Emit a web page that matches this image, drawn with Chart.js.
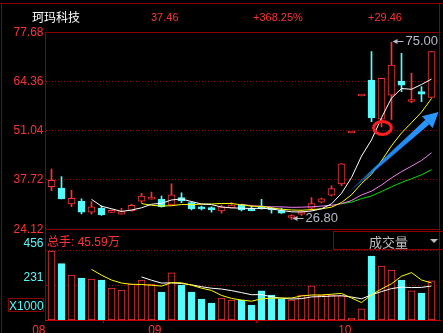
<!DOCTYPE html>
<html>
<head>
<meta charset="utf-8">
<script src="https://cdn.jsdelivr.net/npm/chart.js@4.4.1/dist/chart.umd.min.js"></script>
<style>
  html, body { margin: 0; padding: 0; background: #000; overflow: hidden; }
  #wrap { position: relative; width: 443px; height: 333px; background: #000; font-family: 'Liberation Sans', 'Noto Sans CJK SC', sans-serif; }
  canvas { position: absolute; left: 0; top: 0; }
  .ln { position: absolute; background: #8c0000; }
  .txt { position: absolute; white-space: nowrap; line-height: 1; }
  .red { color: #ff3232; }
</style>
</head>
<body>
<div id="wrap">
  <canvas id="priceChart" width="443" height="333"></canvas>
  <canvas id="volChart" width="443" height="333"></canvas>

  <!-- frame -->
  <div class="ln" style="left:0;top:3px;width:443px;height:1px"></div>
  <div class="ln" style="left:1px;top:3px;width:1px;height:330px"></div>
  <div class="ln" style="left:439px;top:3px;width:1px;height:317px"></div>
  <div class="ln" style="left:45px;top:32px;width:395px;height:1px"></div>
  <div class="ln" style="left:45px;top:32px;width:1px;height:288px"></div>
  <div class="ln" style="left:45px;top:229px;width:395px;height:1px"></div>

  <!-- header -->
  <div class="txt" style="left:32px;top:11px;font-size:12px;color:#fff;font-family:'Noto Sans CJK SC'">珂玛科技</div>
  <div class="txt red" style="left:151px;top:11.5px;font-size:11px">37.46</div>
  <div class="txt red" style="left:253px;top:11.5px;font-size:11px">+368.25%</div>
  <div class="txt red" style="left:368px;top:11.5px;font-size:11px">+29.46</div>

  <!-- volume panel header -->
  <div class="txt red" style="left:47px;top:236px;font-size:12px">总手: 45.59万</div>
  <div style="position:absolute;left:333px;top:231px;width:115px;height:19px;border:1px solid #8c0000;box-sizing:border-box;"></div>
  <div class="txt" style="left:369px;top:235px;font-size:13px;color:#c0c0c0;font-family:'Noto Sans CJK SC'">成交量</div>
  <div style="position:absolute;left:430px;top:239px;width:0;height:0;border-left:4px solid transparent;border-right:4px solid transparent;border-top:4px solid #c0c0c0;"></div>
  <div style="position:absolute;left:8px;top:298px;width:36px;height:14px;border:1px solid #8c0000;box-sizing:border-box;"></div>
  <div class="txt" style="left:9px;top:300px;font-size:12px;color:#54fcfc">X1000</div>
</div>

<script>
const RED = '#ff3232';
const CYAN = '#54fcfc';
const DOT = '#a00000';

// daily candles, 2024-08-16 .. 2024-10
const opens  = [35.70, 35.35, 31.00, 31.73, 28.74, 29.90, 28.70, 28.20, 29.17, 31.73,
                32.30, 32.27, 30.72, 32.71, 31.35, 30.18, 30.00, 29.09, 29.99, 30.72,
                29.72, 30.10, 29.80, 29.17, 27.30, 28.20, 29.82, 31.46, 33.36, 36.44,
                50.32, 60.38, 64.75, 54.10, 60.60, 64.48, 58.90, 61.57, 60.00];
const highs  = [40.50, 38.43, 34.80, 32.36, 31.62, 30.50, 29.40, 29.80, 30.90, 33.90,
                34.26, 33.17, 36.44, 33.99, 31.50, 30.40, 30.20, 30.72, 31.35, 30.90,
                30.40, 32.27, 30.00, 29.90, 28.00, 29.30, 32.71, 32.60, 35.90, 42.00,
                50.32, 60.38, 72.46, 65.30, 75.00, 72.00, 66.58, 62.93, 72.50];
const lows   = [34.60, 32.36, 30.26, 28.27, 28.19, 27.90, 28.60, 28.20, 29.00, 31.35,
                32.30, 30.10, 30.60, 31.35, 29.36, 29.36, 28.74, 28.46, 29.90, 29.09,
                29.10, 29.60, 28.46, 28.40, 26.80, 27.90, 29.17, 31.30, 33.20, 35.98,
                50.32, 60.38, 53.40, 52.00, 54.00, 61.60, 58.60, 58.85, 59.94];
const closes = [37.46, 32.36, 32.55, 28.74, 30.18, 28.00, 29.00, 28.90, 30.64, 33.17,
                32.90, 30.26, 33.45, 31.90, 29.72, 29.63, 29.36, 30.18, 30.72, 29.36,
                29.17, 29.70, 29.36, 28.46, 27.60, 28.90, 31.08, 32.36, 35.16, 41.93,
                50.32, 60.38, 54.41, 65.20, 68.80, 63.31, 59.30, 60.90, 72.50];
// volume in thousands of lots
const volumes = [456, 372, 297, 277, 271, 264, 211, 198, 236, 264,
                 238, 185, 311, 231, 185, 139, 112, 145, 132, 132,
                 99, 192, 165, 139, 132, 165, 225, 165, 165, 159,
                 13, 73, 423, 357, 330, 264, 192, 178, 258];

const ma5 = [null, null, null, null, 32.26, 30.37, 29.69, 28.96, 29.34, 29.94,
             30.92, 31.17, 32.08, 32.34, 31.65, 30.99, 30.81, 30.16, 29.92, 29.85,
             29.76, 29.83, 29.66, 29.21, 28.86, 28.80, 29.08, 29.68, 31.02, 33.89,
             38.17, 44.03, 48.44, 54.45, 59.82, 62.42, 62.22, 63.53, 64.99];
const ma10 = [null, null, null, null, null, null, null, null, null, 31.10,
              30.64, 30.43, 30.52, 30.84, 30.79, 30.96, 30.99, 31.12, 31.13, 30.75,
              30.38, 30.32, 29.91, 29.57, 29.35, 29.28, 29.45, 29.67, 30.12, 31.37,
              33.49, 36.56, 39.06, 42.73, 46.85, 50.30, 53.13, 55.99, 59.72];
const ma20 = [null, null, null, null, null, null, null, null, null, null,
              null, null, null, null, null, null, null, null, null, 30.92,
              30.51, 30.38, 30.22, 30.20, 30.07, 30.12, 30.22, 30.40, 30.62, 31.06,
              31.93, 33.44, 34.49, 36.15, 38.10, 39.79, 41.29, 42.83, 44.92];
const ma30 = [null, null, null, null, null, null, null, null, null, null,
              null, null, null, null, null, null, null, null, null, null,
              null, null, null, null, null, null, null, null, null, 31.07,
              31.50, 32.44, 33.16, 34.38, 35.67, 36.84, 37.86, 38.93, 40.32];
const volMa5 = [null, null, null, null, 334.6, 296.2, 264.0, 244.2, 236.0, 234.6,
                229.4, 224.2, 246.8, 245.8, 230.0, 210.2, 195.6, 162.4, 142.6, 132.0,
                124.0, 140.0, 144.0, 145.4, 145.4, 158.6, 165.2, 165.2, 170.4, 175.8,
                145.4, 115.0, 166.6, 205.0, 239.2, 289.4, 313.2, 264.2, 244.4];
const volMa10 = [null, null, null, null, null, null, null, null, null, 284.6,
                 262.8, 244.1, 245.5, 240.9, 232.3, 219.8, 209.9, 204.6, 194.2, 181.0,
                 167.1, 167.8, 153.2, 144.0, 138.7, 141.3, 152.6, 154.6, 157.9, 160.6,
                 152.0, 140.1, 165.9, 187.7, 207.5, 217.4, 214.1, 215.4, 224.7];

const priceTicks = [24.12, 37.72, 51.04, 64.36, 77.68];
const volTicks = [231, 456];
const monthLabels = ['08', '09', '10'];
const monthFirstBar = [0, 11, 30];

Chart.defaults.font.family = "'Liberation Sans', sans-serif";
Chart.defaults.font.size = 12;

const isUp = i => closes[i] >= opens[i];
const upDown = (up, down) => closes.map((c, i) => isUp(i) ? up : down);
const pts = arr => arr.map((v, i) => ({ x: i, y: v }));

const xIndex = () => ({ type: 'linear', min: -0.6, max: 38.9, offset: false });

const maLine = (data, color) => ({
  type: 'line', data: pts(data), borderColor: color, borderWidth: 1,
  pointRadius: 0, tension: 0, order: 0
});

// annotations on the price panel: high/low tags, circle, trend arrow
const notesPlugin = {
  id: 'notes',
  afterDatasetsDraw(chart) {
    const { ctx, scales: { x, y } } = chart;
    ctx.save();

    const tag = (i, v) => {
      const px = x.getPixelForValue(i), py = Math.round(y.getPixelForValue(v)) - 0.5;
      ctx.strokeStyle = ctx.fillStyle = '#b8bcc8';
      ctx.lineWidth = 1;
      ctx.beginPath();
      ctx.moveTo(px + 2, py); ctx.lineTo(px + 12, py); ctx.stroke();
      ctx.beginPath();
      ctx.moveTo(px + 1, py); ctx.lineTo(px + 6, py - 2.5); ctx.lineTo(px + 6, py + 2.5);
      ctx.closePath(); ctx.fill();
      ctx.font = "13px 'Liberation Sans'";
      ctx.textBaseline = 'middle';
      ctx.fillText(v.toFixed(2), px + 14, py);
    };
    const hi = highs.indexOf(Math.max(...highs));
    const lo = lows.indexOf(Math.min(...lows));
    tag(hi, highs[hi]);
    tag(lo, lows[lo]);

    // red circle
    ctx.strokeStyle = '#ff1e1e';
    ctx.lineWidth = 3;
    ctx.beginPath();
    ctx.ellipse(x.getPixelForValue(33.1), y.getPixelForValue(51.7), 8.8, 6.5, 0, 0, Math.PI * 2);
    ctx.stroke();

    // blue trend arrow
    const t0 = { x: x.getPixelForValue(29.4), y: y.getPixelForValue(33.4) };
    const t1 = { x: x.getPixelForValue(38.7), y: y.getPixelForValue(56.0) };
    const dx = t1.x - t0.x, dy = t1.y - t0.y, len = Math.hypot(dx, dy);
    const ux = dx / len, uy = dy / len, nx = -uy, ny = ux;
    const headLen = 15, headW = 8;
    const b = { x: t1.x - ux * headLen, y: t1.y - uy * headLen };
    const g = ctx.createLinearGradient(t0.x, t0.y, b.x, b.y);
    g.addColorStop(0, 'rgba(30,144,255,0)');
    g.addColorStop(0.35, 'rgba(30,144,255,0.9)');
    g.addColorStop(1, 'rgba(40,150,255,1)');
    ctx.fillStyle = g;
    ctx.beginPath();
    ctx.moveTo(t0.x + nx * 0.5, t0.y + ny * 0.5);
    ctx.lineTo(b.x + nx * 3, b.y + ny * 3);
    ctx.lineTo(b.x - nx * 3, b.y - ny * 3);
    ctx.lineTo(t0.x - nx * 0.5, t0.y - ny * 0.5);
    ctx.closePath(); ctx.fill();
    ctx.fillStyle = '#2896ff';
    ctx.beginPath();
    ctx.moveTo(t1.x, t1.y);
    ctx.lineTo(b.x + nx * headW, b.y + ny * headW);
    ctx.lineTo(b.x - nx * headW, b.y - ny * headW);
    ctx.closePath(); ctx.fill();

    ctx.restore();
  }
};

new Chart(document.getElementById('priceChart'), {
  type: 'bar',
  data: {
    datasets: [
      maLine(ma5, '#ffffff'),
      maLine(ma10, '#ffff00'),
      maLine(ma20, '#f080f0'),
      maLine(ma30, '#00e000'),
      {
        label: 'body',
        data: opens.map((o, i) => ({ x: i, y: [o, closes[i]] })),
        backgroundColor: upDown('#000000', CYAN),
        borderColor: upDown(RED, CYAN),
        borderWidth: 1,
        borderSkipped: false,
        barThickness: 7,
        minBarLength: 2,
        grouped: false,
        order: 1
      },
      {
        label: 'wick',
        data: lows.map((l, i) => ({ x: i, y: [l, highs[i]] })),
        backgroundColor: upDown(RED, CYAN),
        borderWidth: 0,
        barThickness: 1,
        grouped: false,
        order: 2
      }
    ]
  },
  options: {
    responsive: false,
    animation: false,
    layout: { padding: { top: 32.5, right: 2.5, bottom: 103.8, left: 0 } },
    plugins: { legend: { display: false }, tooltip: { enabled: false } },
    scales: {
      x: Object.assign(xIndex(), { display: false }),
      y: {
        min: priceTicks[0],
        max: priceTicks[priceTicks.length - 1],
        afterFit: s => { s.width = 45.5; },
        afterBuildTicks: s => { s.ticks = priceTicks.map(v => ({ value: v })); },
        ticks: { color: RED, padding: 2, callback: v => v.toFixed(2) },
        grid: {
          drawTicks: false,
          color: c => (c.index === 0 || c.index === priceTicks.length - 1) ? 'rgba(0,0,0,0)' : DOT
        },
        border: { display: false, dash: [1, 2] }
      }
    }
  },
  plugins: [notesPlugin]
});

new Chart(document.getElementById('volChart'), {
  type: 'bar',
  data: {
    datasets: [
      maLine(volMa5, '#ffff00'),
      maLine(volMa10, '#ffffff'),
      {
        label: 'vol',
        data: pts(volumes),
        backgroundColor: upDown('#000000', CYAN),
        borderColor: upDown(RED, CYAN),
        borderWidth: 1,
        borderSkipped: false,
        barThickness: 7,
        minBarLength: 2,
        grouped: false,
        order: 1
      }
    ]
  },
  options: {
    responsive: false,
    animation: false,
    layout: { padding: { top: 231, right: 2.5, bottom: 0, left: 0 } },
    plugins: { legend: { display: false }, tooltip: { enabled: false } },
    scales: {
      x: Object.assign(xIndex(), {
        afterFit: s => { s.height = 13; },
        afterBuildTicks: s => { s.ticks = monthFirstBar.map(i => ({ value: i === 0 ? s.min : i })); },
        ticks: { color: RED, padding: 0, align: 'end', autoSkip: false, maxRotation: 0,
                 callback: (v, idx) => monthLabels[idx] },
        grid: { drawOnChartArea: false, drawTicks: true, tickLength: 3, color: '#c80000' },
        border: { display: true, color: '#c80000', width: 1 }
      }),
      y: {
        min: 0,
        max: 588,
        afterFit: s => { s.width = 45.5; },
        afterBuildTicks: s => { s.ticks = volTicks.map(v => ({ value: v })); },
        ticks: { color: CYAN, padding: 2, labelOffset: -7, callback: v => String(v) },
        grid: { drawTicks: false, color: DOT },
        border: { display: false, dash: [1, 2] }
      }
    }
  }
});
</script>
</body>
</html>
